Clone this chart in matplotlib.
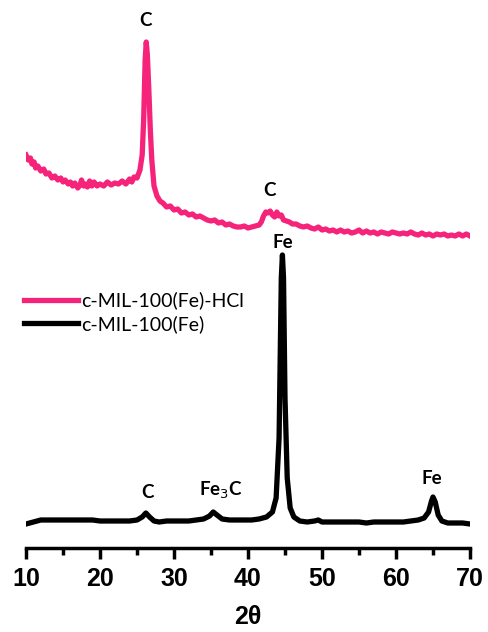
import matplotlib.pyplot as plt

# black curve: c-MIL-100(Fe)
bl_x = [10.0, 10.5, 11.0, 11.5, 12.0, 13.0, 14.0, 15.0, 16.0, 17.0, 18.0, 19.0, 20.0, 21.0,
        22.0, 23.0, 24.0, 25.0, 25.7, 26.2, 26.7, 27.3, 28.0, 29.0, 30.0, 31.0, 32.0, 33.0,
        34.0, 34.8, 35.3, 35.8, 36.5, 37.5, 38.5, 39.5, 40.5, 41.5, 42.5, 43.3, 43.8, 44.2,
        44.5, 44.65, 44.8, 45.0, 45.3, 45.7, 46.2, 47.0, 48.0, 49.0, 49.5, 50.0, 51.0, 52.0,
        53.0, 54.0, 55.0, 56.0, 57.0, 58.0, 59.0, 60.0, 61.0, 62.0, 63.0, 63.8, 64.4, 64.8,
        65.0, 65.3, 65.7, 66.2, 67.0, 68.0, 69.0, 70.0]
bl_y = [24, 25, 26, 27, 28, 28, 28, 28, 28, 28, 28, 28, 27, 27,
        27, 27, 27, 28, 31, 35, 31, 27, 26, 27, 27, 27, 27, 28,
        29, 32, 36, 33, 29, 28, 28, 28, 28, 29, 31, 36, 50, 110,
        270, 293, 270, 150, 70, 40, 31, 27, 26, 27, 28, 26, 26, 26,
        26, 26, 26, 25, 26, 26, 26, 26, 26, 27, 28, 30, 36, 47,
        51, 46, 33, 27, 25, 25, 25, 24]

# pink curve: c-MIL-100(Fe)-HCl
pk_x = [10.0, 10.3, 10.6, 10.8, 11.1, 11.3, 11.6, 12.0, 12.4, 12.7, 13.1, 13.5, 13.9, 14.3,
        14.7, 15.0, 15.3, 15.7, 16.0, 16.3, 16.6, 17.0, 17.3, 17.5, 17.8, 18.0, 18.3, 18.6,
        18.9, 19.2, 19.6, 20.0, 20.5, 21.0, 21.5, 22.0, 22.5, 23.0, 23.5, 24.0, 24.3, 24.6,
        25.0, 25.4, 25.7, 25.9, 26.1, 26.25, 26.4, 26.6, 26.8, 27.0, 27.3, 27.7, 28.1, 28.5,
        29.0, 29.5, 30.0, 30.5, 31.0, 31.5, 32.0, 32.5, 33.0, 33.5, 34.0, 34.5, 35.0, 35.5,
        36.0, 36.5, 37.0, 37.5, 38.0, 38.5, 39.0, 39.5, 40.0, 40.5, 41.0, 41.5, 41.8, 42.1,
        42.4, 42.7, 43.0, 43.3, 43.6, 43.9, 44.2, 44.5, 44.8, 45.2, 45.6, 46.0, 46.5, 47.0,
        47.5, 48.0, 48.5, 49.0, 49.5, 50.0, 50.5, 51.0, 51.5, 52.0, 52.5, 53.0, 53.5, 54.0,
        54.5, 55.0, 55.5, 56.0, 56.5, 57.0, 57.5, 58.0, 58.5, 59.0, 59.5, 60.0, 60.5, 61.0,
        61.5, 62.0, 62.5, 63.0, 63.5, 64.0, 64.5, 65.0, 65.5, 66.0, 66.5, 67.0, 67.5, 68.0,
        68.5, 69.0, 69.5, 70.0]
pk_y = [393, 388, 390, 384, 386, 380, 382, 377, 379, 374, 375, 370, 372, 368,
        370, 366, 368, 364, 366, 362, 365, 360, 363, 368, 362, 364, 361, 367,
        362, 366, 362, 364, 362, 366, 363, 365, 364, 367, 364, 369, 366, 371,
        370, 378, 393, 428, 488, 506, 493, 458, 418, 388, 362, 352, 347, 345,
        341, 342, 338, 339, 335, 336, 333, 334, 331, 332, 330, 328, 327, 328,
        325, 326, 323, 324, 322, 321, 321, 322, 320, 321, 322, 323, 326, 332,
        336, 335, 337, 333, 331, 336, 332, 333, 328, 327, 326, 324, 324, 322,
        321, 322, 320, 319, 321, 318, 319, 317, 318, 316, 318, 316, 317, 315,
        316, 318, 315, 317, 315, 316, 314, 316, 315, 314, 316, 315, 314, 315,
        314, 316, 314, 313, 315, 313, 314, 312, 314, 313, 314, 312, 313, 312,
        314, 312, 314, 312]

labels = ["c-MIL-100(Fe)-HCl", "c-MIL-100(Fe)"]
pink = '#F5237A'

fig = plt.figure(figsize=(4.88, 6.32), dpi=100)
ax = fig.add_axes([26/488, 1 - 548/632, 444/488, 548/632])

ax.plot(pk_x, pk_y, color=pink, linewidth=3.8, label=labels[0])
ax.plot(bl_x, bl_y, color='black', linewidth=3.8, label=labels[1])

ax.set_xlim(10, 70)
ax.set_ylim(0, 548)
for s in ['left', 'right', 'top']:
    ax.spines[s].set_visible(False)
ax.spines['bottom'].set_linewidth(2.5)
ax.set_yticks([])
ax.set_xticks(range(10, 71, 10))
ax.set_xticks(range(15, 70, 10), minor=True)
ax.tick_params(axis='x', which='major', length=8, width=2.5, direction='out', pad=6)
ax.tick_params(axis='x', which='minor', length=5, width=2.5, direction='out')
for t in ax.get_xticklabels():
    t.set_fontsize(18)
    t.set_fontweight('bold')
    t.set_family('Liberation Sans')
ax.set_xlabel("2θ", fontsize=18, fontweight='bold', family='Liberation Sans', labelpad=10)

# peak labels
lab_font = dict(family='Lato', fontweight='bold', fontsize=13.5, ha='center', va='center')
ax.text(26.1, 528, "C", **lab_font)
ax.text(42.9, 358, "C", **lab_font)
ax.text(44.7, 306, "Fe", **lab_font)
ax.text(26.4, 56, "C", **lab_font)
ax.text(36.4, 58, "Fe$_3$C", **lab_font)
ax.text(64.9, 70, "Fe", **lab_font)

ax.legend(loc='upper left', bbox_to_anchor=(-0.044, 0.5), frameon=False,
          handlelength=2.8, handletextpad=0.15, labelspacing=0.3,
          prop={'family': 'Lato', 'size': 14})

fig.savefig("out.png", dpi=100)
